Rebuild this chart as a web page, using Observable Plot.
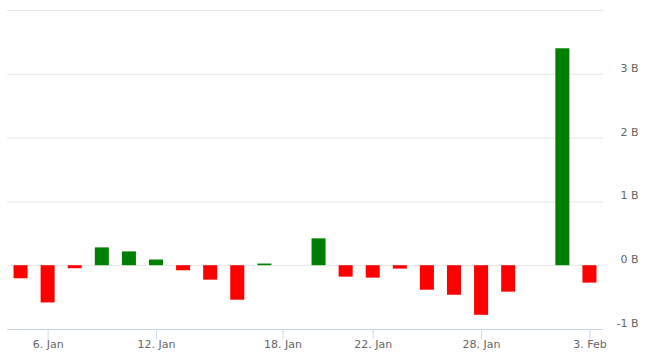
<!DOCTYPE html>
<html><head><meta charset="utf-8">
<script src="https://cdn.jsdelivr.net/npm/d3@7"></script>
<script src="https://cdn.jsdelivr.net/npm/@observablehq/plot@0.6"></script>
<style>
body{margin:0;background:#fff;}
#chart svg{display:block;}
</style>
</head><body><div id="chart"></div>
<script>
// Trading days (ordinal x axis) and daily values in billions
const dates = ["2026-01-05","2026-01-06","2026-01-07","2026-01-08","2026-01-09",
  "2026-01-12","2026-01-13","2026-01-14","2026-01-15","2026-01-16",
  "2026-01-19","2026-01-20","2026-01-21","2026-01-22","2026-01-23",
  "2026-01-26","2026-01-27","2026-01-28","2026-01-29","2026-01-30",
  "2026-02-02","2026-02-03"];
const values = [-0.205, -0.584, -0.047, 0.279, 0.216,
  0.089, -0.079, -0.226, -0.541, 0.026,
  null, 0.421, -0.179, -0.195, -0.053,
  -0.384, -0.463, -0.778, -0.415, null,
  3.40, -0.273];
const tickDates = ["2026-01-06","2026-01-12","2026-01-18","2026-01-22","2026-01-28","2026-02-03"];
const tickLabels = ["6. Jan","12. Jan","18. Jan","22. Jan","28. Jan","3. Feb"];
const gridValues = [-1, 0, 1, 2, 3, 4];
const yTickValues = [-1, 0, 1, 2, 3];
const yTickLabels = ["-1 B", "0 B", "1 B", "2 B", "3 B"];

const parse = d3.utcParse("%Y-%m-%d");
const times = dates.map(d => +parse(d));
function ordinalPos(s) {
  const t = +parse(s);
  const k = d3.bisectRight(times, t) - 1;
  if (times[k] === t) return k;
  return k + (t - times[k]) / (times[k + 1] - times[k]);
}
const tickPos = tickDates.map(ordinalPos);
const xLabel = new Map(tickPos.map((p, i) => [p, tickLabels[i]]));
const yLabel = new Map(yTickValues.map((v, i) => [v, yTickLabels[i]]));

const data = dates.map((d, i) => ({i, date: d, value: values[i]})).filter(d => d.value != null);
const half = 0.259;

const chart = Plot.plot({
  width: 652,
  height: 356,
  marginTop: 10,
  marginBottom: 27,
  marginLeft: 7,
  marginRight: 49,
  style: {fontFamily: "'DejaVu Sans', sans-serif", fontSize: "11px", color: "#666666", background: "#fff"},
  x: {type: "linear", domain: [-0.5, dates.length - 0.5], label: null},
  y: {domain: [-1, 4], label: null},
  marks: [
    Plot.gridY(gridValues, {stroke: "#e6e6e6", strokeOpacity: 1}),
    Plot.rectY(data.filter(d => d.value >= 0), {x1: d => d.i - half, x2: d => d.i + half, y1: 0, y2: "value", fill: "#008000"}),
    Plot.rectY(data.filter(d => d.value < 0), {x1: d => d.i - half, x2: d => d.i + half, y1: 0, y2: "value", fill: "#ff0000"}),
    Plot.ruleY([-1], {stroke: "#ccd6eb"}),
    Plot.axisX(tickPos, {anchor: "bottom", label: null, tickSize: 10, tickPadding: 1, stroke: "#ccd6eb", fill: "#666666", strokeOpacity: 1,
      tickFormat: d => xLabel.get(d)}),
    Plot.axisY(yTickValues, {anchor: "right", label: null, tickSize: 0, tickPadding: 35, textAnchor: "end", dy: -6, fill: "#666666",
      tickFormat: d => yLabel.get(d)})
  ]
});
document.getElementById("chart").appendChild(chart);
</script>
</body></html>
